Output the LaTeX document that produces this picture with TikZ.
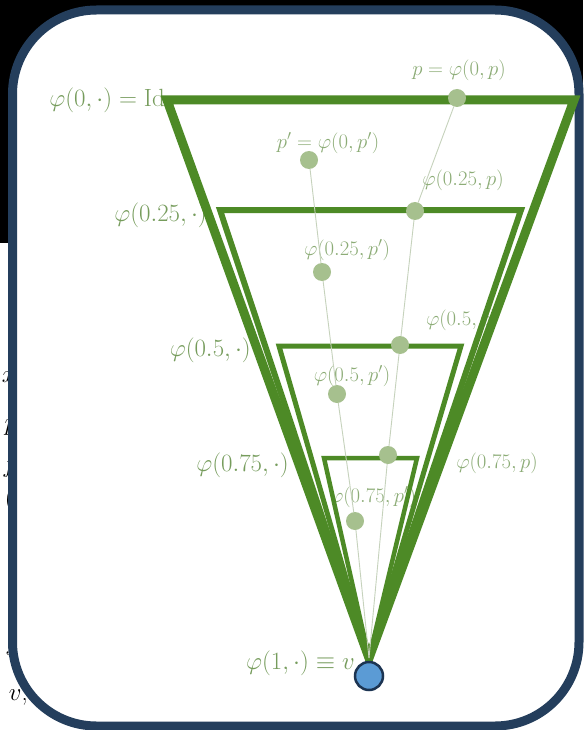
\documentclass[tikz,border=0pt]{standalone}
\usepackage{amsmath,amssymb}
\usetikzlibrary{positioning}
\definecolor{flowgreen}{RGB}{77,138,38}
\definecolor{labelgreen}{RGB}{118,156,92}
\definecolor{smallgreen}{RGB}{140,172,118}
\definecolor{dotgreen}{RGB}{166,192,142}
\definecolor{trackgray}{RGB}{198,210,188}
\definecolor{framenavy}{RGB}{36,62,92}
\definecolor{vblue}{RGB}{91,155,213}
\definecolor{vborder}{RGB}{28,52,82}

\begin{document}
\begin{tikzpicture}[x=1pt, y=-1pt,
    level/.style={draw=flowgreen, line join=miter},
    track/.style={draw=trackgray, line width=0.9pt},
    dot/.style={circle, fill=dotgreen, inner sep=0pt, minimum size=18pt},
    biglabel/.style={text=labelgreen, font=\fontsize{30}{35}\selectfont, inner sep=0pt},
    smalllabel/.style={text=smallgreen, font=\fontsize{20}{24}\selectfont, inner sep=0pt},
    hidden/.style={font=\fontsize{38}{44}\selectfont, anchor=base east, inner sep=0pt}]
  \useasboundingbox (0,0) rectangle (583,730);
  \fill[black] (0,0) rectangle (583,243);

  % slide text behind the frame
  \node[hidden] (h1) at (16,382) {$x$};
  \node[hidden] (h2) at (17,430) {$p$};
  \node[hidden] (h3) at (17,472) {$f$};
  \node[hidden] (h4) at (14,506) {$($};
  \node[hidden] (h5) at (17,538) {$t$};
  \node[hidden] (h6) at (17,655) {$s$};
  \node[hidden] (h7) at (28,700) {$v;$};

  \draw[framenavy, line width=9pt, fill=white, rounded corners=84pt]
    (12.5,10) rectangle (579,726);

  \coordinate (apex) at (369,658);
  \coordinate (l0) at (167,100); \coordinate (r0) at (574,100);
  \coordinate (l1) at (220,210); \coordinate (r1) at (521,210);
  \coordinate (l2) at (279,346); \coordinate (r2) at (461,346);
  \coordinate (l3) at (324,458); \coordinate (r3) at (417,458);

  % labels
  \node[biglabel, anchor=east] (lab0) at (165,100) {$\varphi(0,\cdot)=\mathrm{Id}$};
  \node[biglabel, anchor=east] (lab1) at (207,215) {$\varphi(0.25,\cdot)$};
  \node[biglabel, anchor=east] (lab2) at (251,350) {$\varphi(0.5,\cdot)$};
  \node[biglabel, anchor=east] (lab3) at (289,465) {$\varphi(0.75,\cdot)$};
  \node[biglabel, anchor=east] (lab4) at (355,663) {$\varphi(1,\cdot)\equiv v$};

  \node[smalllabel] (pl0) at (459,70) {$p=\varphi(0,p)$};
  \node[smalllabel] (pl1) at (463,180) {$\varphi(0.25,p)$};
  \node[smalllabel] (pl2) at (462,320) {$\varphi(0.5,p)$};
  \node[smalllabel] (pl3) at (497,463) {$\varphi(0.75,p)$};
  \node[smalllabel] (ql0) at (328,143) {$p'=\varphi(0,p')$};
  \node[smalllabel] (ql1) at (347,250) {$\varphi(0.25,p')$};
  \node[smalllabel] (ql2) at (352,376) {$\varphi(0.5,p')$};
  \node[smalllabel] (ql3) at (373,497) {$\varphi(0.75,p')$};

  % nested sets
  \draw[level, line width=9pt] (l0) -- (r0) -- (apex) -- cycle;
  \draw[level, line width=6pt] (l1) -- (r1) -- (apex) -- cycle;
  \draw[level, line width=5pt] (l2) -- (r2) -- (apex) -- cycle;
  \draw[level, line width=4.5pt] (l3) -- (r3) -- (apex) -- cycle;

  % trajectories
  \node[dot] (p0) at (457,98) {};
  \node[dot] (p1) at (415,211) {};
  \node[dot] (p2) at (400,345) {};
  \node[dot] (p3) at (388,455) {};
  \node[dot] (q0) at (309,160) {};
  \node[dot] (q1) at (322,272) {};
  \node[dot] (q2) at (337,394) {};
  \node[dot] (q3) at (355,521) {};
  \draw[track] (p0) -- (p1) -- (p2) -- (p3) -- (apex);
  \draw[track] (q0) -- (q1) -- (q2) -- (q3) -- (apex);

  \node[circle, draw=vborder, fill=vblue, line width=2.5pt, minimum size=28pt] (v) at (369,676) {};
\end{tikzpicture}
\end{document}
